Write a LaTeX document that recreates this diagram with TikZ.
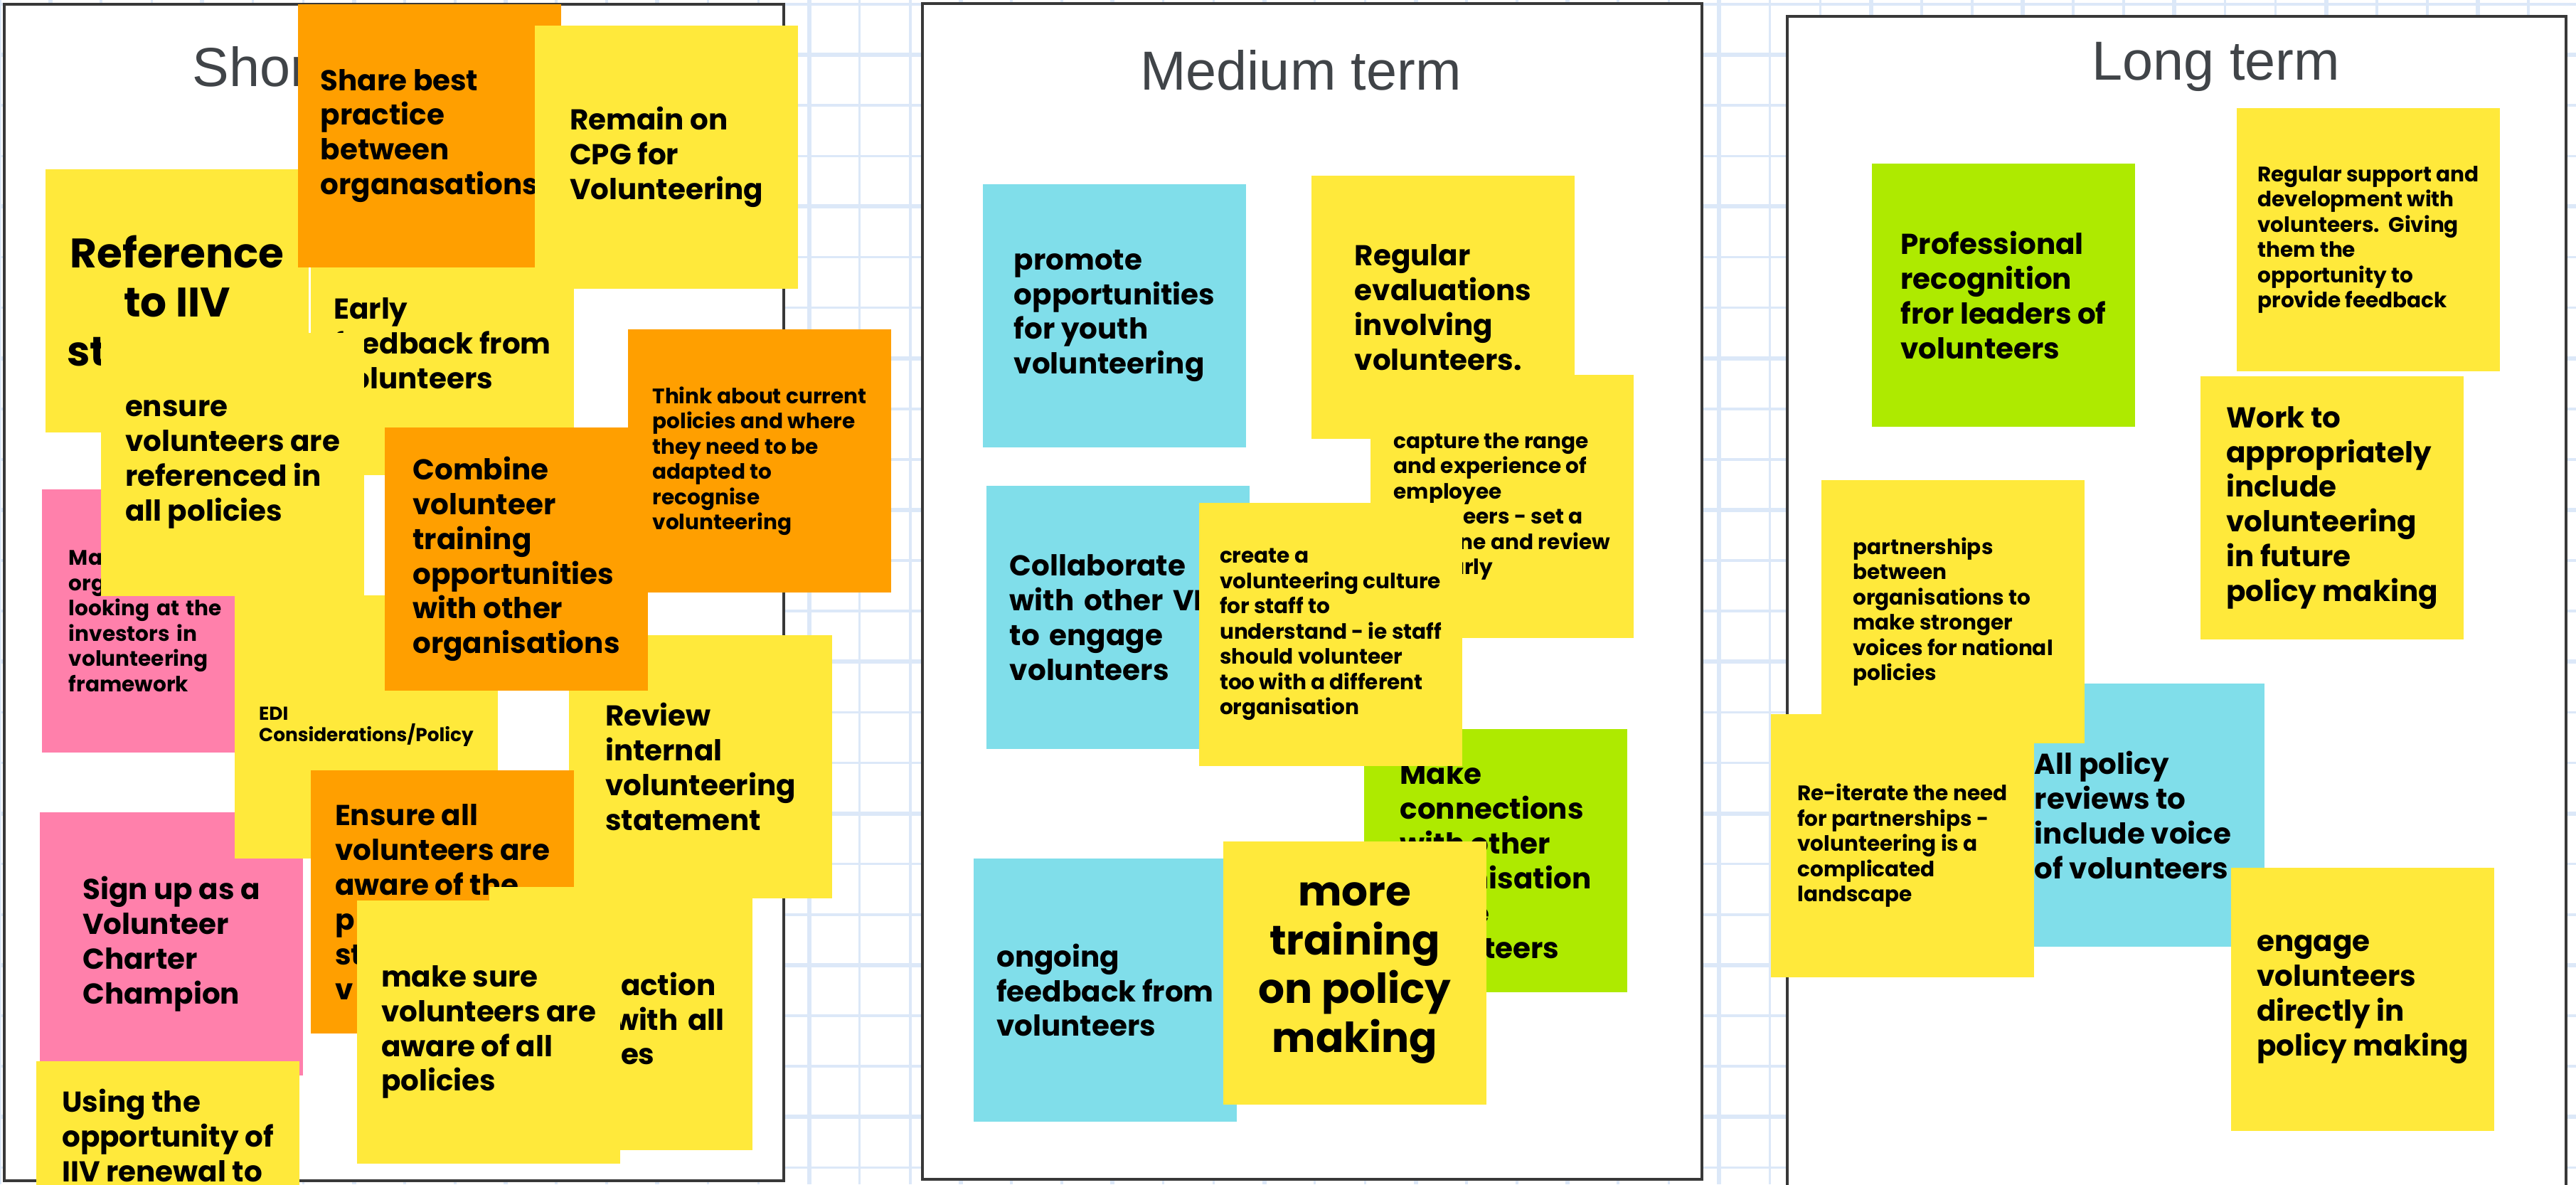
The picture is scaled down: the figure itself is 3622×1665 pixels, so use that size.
\documentclass[tikz,border=0pt]{standalone}
\usepackage{fontspec}
\setmainfont{Poppins}
\newfontfamily\headfont{Liberation Sans}
\usepackage{xcolor}
\usepackage{tikz}
\usetikzlibrary{positioning}

\definecolor{stickyyellow}{HTML}{FFE93B}
\definecolor{stickyorange}{HTML}{FF9F00}
\definecolor{stickypink}{HTML}{FF80AB}
\definecolor{stickycyan}{HTML}{80DEEA}
\definecolor{stickygreen}{HTML}{AEEA00}
\definecolor{gridblue}{HTML}{DCE8F8}
\definecolor{framegray}{HTML}{383838}
\definecolor{headgray}{HTML}{404448}

\newcommand{\bigtxt}{\fontsize{16.5}{19.6}\selectfont\bfseries}
\newcommand{\medtxt}{\fontsize{11.5}{13.9}\selectfont\bfseries}
\newcommand{\smltxt}{\fontsize{8.4}{10.1}\selectfont\bfseries}
\newcommand{\tinytxt}{\fontsize{7.5}{8.6}\selectfont\bfseries}

\begin{document}
\begin{tikzpicture}[
    x=0.01cm, y=-0.01cm,
    note/.style={rectangle, fill=#1, minimum width=3.7cm, minimum height=3.7cm, inner sep=0pt, align=left, font=\medtxt, text=black},
    note/.default=stickyyellow,
    bigtext/.style={font=\bigtxt, align=center},
    smalltext/.style={font=\smltxt},
    tinytext/.style={font=\tinytxt},
    panel/.style={draw=framegray, line width=0.04cm, fill=white},
    heading/.style={font=\headfont\fontsize{22}{26}\selectfont, text=headgray, anchor=base, inner sep=0pt},
    gridline/.style={gridblue, line width=0.035cm},
]
\useasboundingbox (0,0) rectangle (3622,1665);

% Grid
\foreach \k in {0,...,51} \draw[gridline] (\k*71.1,0) -- (\k*71.1,1665);
\foreach \k in {0,...,23} \draw[gridline] (0,6+\k*71.1) -- (3622,6+\k*71.1);
\foreach \k in {1,4,...,49} \draw[gridline, line width=0.06cm] (\k*71.1,0) -- (\k*71.1,1665);
\foreach \k in {1,4,...,22} \draw[gridline, line width=0.06cm] (0,6+\k*71.1) -- (3622,6+\k*71.1);

% Columns
\draw[panel] (6,6) rectangle (1102,1660);
\draw[panel] (1297,5) rectangle (2393,1658);
\draw[panel] (2513,23) rectangle (3608,1700);

\node[heading] (shortterm) at (451,121) {Short term};
\node[heading] (mediumterm) at (1829,126) {Medium term};
\node[heading] (longterm) at (3116,112) {Long term};

% Short term
\node[note, bigtext] (reference) at (249,423) {Reference\\to IIV\\st\phantom{andards}};
\node[note] (earlyfeedback) at (622,483) {Early\\feedback from\\volunteers};
\node[note=stickyorange] (sharebest) at (604,191) {Share best\\practice\\between\\organasations};
\node[note] (remaincpg) at (937,221) {Remain on\\CPG for\\Volunteering};
\node[note=stickypink, smalltext, text width=2.94cm] (investors) at (244,873) {Ma\\org\\looking at the\\investors in\\volunteering\\framework};
\node[note] (referenced) at (327,653) {ensure\\volunteers are\\referenced in\\all policies};
\node[note=stickyorange, smalltext] (thinkabout) at (1068,648) {Think about current\\policies and where\\they need to be\\adapted to\\recognise\\volunteering};
\node[note] (reviewinternal) at (985,1078) {Review\\internal\\volunteering\\statement};
\node[note=stickypink] (signup) at (241,1327) {Sign up as a\\Volunteer\\Charter\\Champion};
\node[note, tinytext] (edi) at (515,1022) {EDI\\Considerations/Policy};
\node[note=stickyorange] (combine) at (726,786) {Combine\\volunteer\\training\\opportunities\\with other\\organisations};
\node[note=stickyorange] (awareall) at (622,1268) {Ensure all\\volunteers are\\aware of the\\p\\st\\v};
\node[note, text width=3.2cm] (action) at (873,1432) {\hspace*{1.6cm}action\\\hspace*{1.5cm}with all\\\hspace*{1.6cm}es};
\node[note] (makesure) at (687,1451) {make sure\\volunteers are\\aware of all\\policies};
\node[note] (renewal) at (236,1677) {Using the\\opportunity of\\IIV renewal to\\\strut\\\strut\\\strut};

% Medium term
\node[note=stickycyan] (youth) at (1567,444) {promote\\opportunities\\for youth\\volunteering};
\node[note] (evaluations) at (2029,432) {Regular\\evaluations\\involving\\volunteers.};
\node[note, smalltext] (capture) at (2112,712) {capture the range\\and experience of\\employee\\volunteers - set a\\baseline and review\\regularly};
\node[note=stickycyan, text width=3.04cm] (collaborate) at (1572,868) {Collaborate\\with other VI\\to engage\\volunteers};
\node[note=stickygreen] (connections) at (2103,1210) {Make\\connections\\with other\\organisation\\to use\\volunteers};
\node[note, smalltext] (culture) at (1871,892) {create a\\volunteering culture\\for staff to\\understand - ie staff\\should volunteer\\too with a different\\organisation};
\node[note=stickycyan] (ongoing) at (1554,1392) {ongoing\\feedback from\\volunteers};
\node[note, bigtext] (training) at (1905,1368) {more\\training\\on policy\\making};

% Long term
\node[note=stickygreen] (recognition) at (2817,415) {Professional\\recognition\\fror leaders of\\volunteers};
\node[note, smalltext] (support) at (3330,337) {Regular support and\\development with\\volunteers.\ \ Giving\\them the\\opportunity to\\provide feedback};
\node[note] (futurepolicy) at (3279,714) {Work to\\appropriately\\include\\volunteering\\in future\\policy making};
\node[note=stickycyan] (voice) at (2999,1146) {All policy\\reviews to\\include voice\\of volunteers};
\node[note, smalltext] (partnerships) at (2746,860) {partnerships\\between\\organisations to\\make stronger\\voices for national\\policies};
\node[note, smalltext] (reiterate) at (2675,1189) {Re-iterate the need\\for partnerships -\\volunteering is a\\complicated\\landscape};
\node[note] (engage) at (3322,1405) {engage\\volunteers\\directly in\\policy making};

\end{tikzpicture}
\end{document}
